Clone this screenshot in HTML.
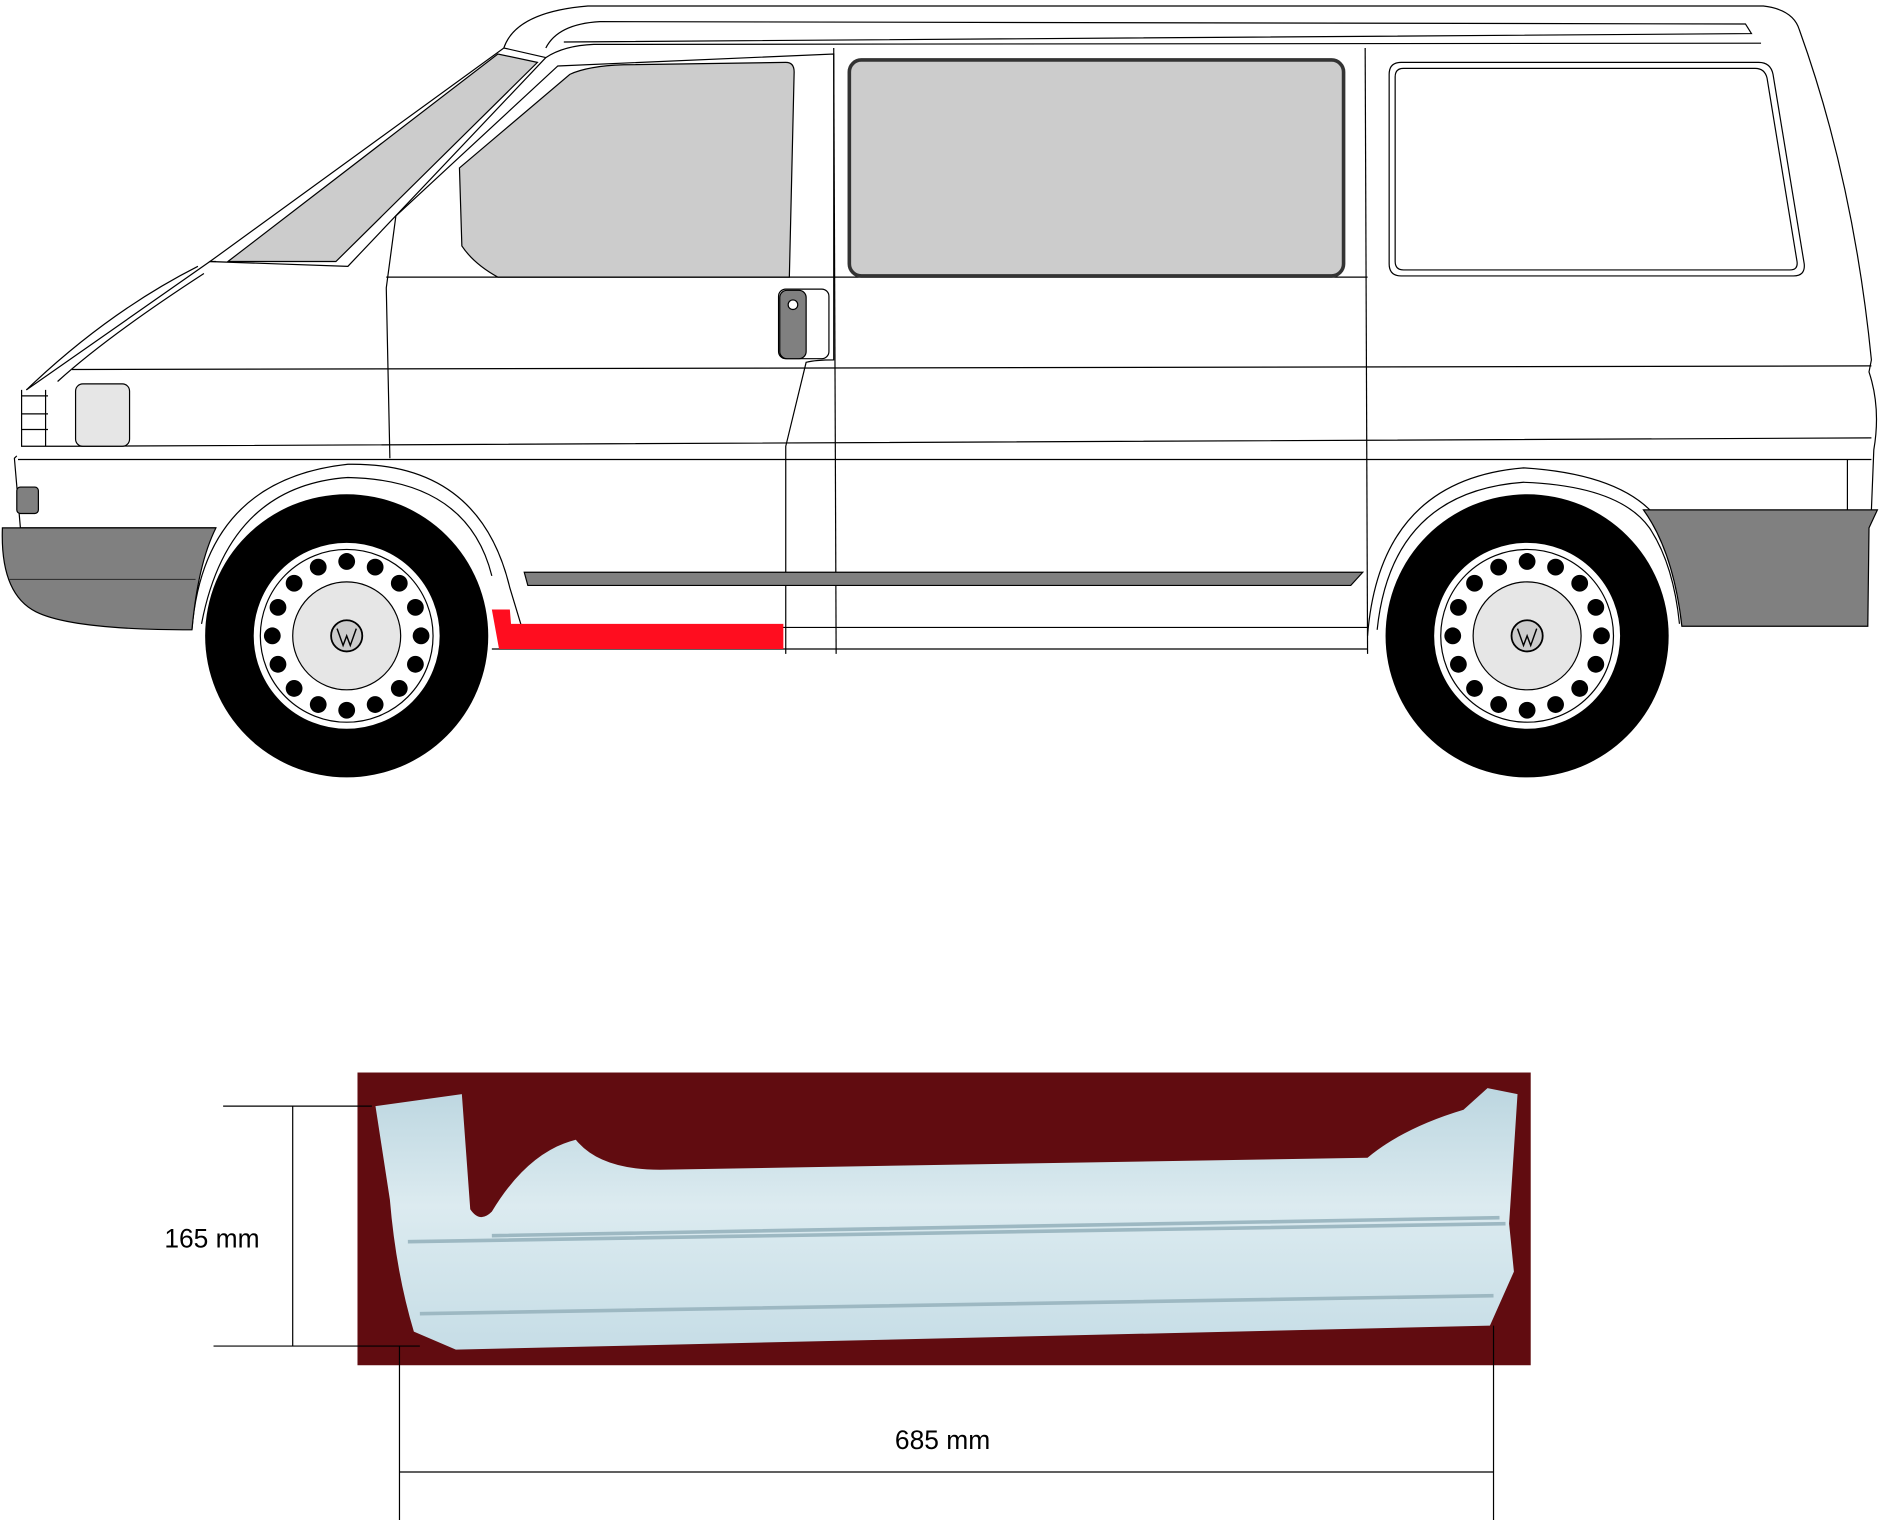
<!DOCTYPE html>
<html><head><meta charset="utf-8"><style>html,body{margin:0;padding:0;background:#fff}svg{display:block}</style></head>
<body>
<svg width="1881" height="1520" viewBox="0 0 1568 1267" preserveAspectRatio="none" xmlns="http://www.w3.org/2000/svg">
<defs>
<linearGradient id="pg" x1="0" y1="0" x2="0" y2="1">
<stop offset="0" stop-color="#bcd6e0"/><stop offset="0.45" stop-color="#dcebf0"/><stop offset="1" stop-color="#c6dde6"/>
</linearGradient>
<g id="wheel">
<circle r="118" fill="#000"/>
<circle r="78" fill="#fff" stroke="#000" stroke-width="1"/>
<circle r="72" fill="none" stroke="#000" stroke-width="1"/>
<circle r="45" fill="#e6e6e6" stroke="#000" stroke-width="1"/>
<g id="dots">
<circle cx="62" cy="0" r="7" fill="#000"/>
<circle cx="62" cy="0" r="7" fill="#000" transform="rotate(22.5)"/>
<circle cx="62" cy="0" r="7" fill="#000" transform="rotate(45)"/>
<circle cx="62" cy="0" r="7" fill="#000" transform="rotate(67.5)"/>
<circle cx="62" cy="0" r="7" fill="#000" transform="rotate(90)"/>
<circle cx="62" cy="0" r="7" fill="#000" transform="rotate(112.5)"/>
<circle cx="62" cy="0" r="7" fill="#000" transform="rotate(135)"/>
<circle cx="62" cy="0" r="7" fill="#000" transform="rotate(157.5)"/>
</g>
<use href="#dots" transform="rotate(180)"/>
<circle r="13" fill="#ccc" stroke="#000" stroke-width="1.5"/>
<path d="M-8,-6 L-3,8 L0,0 L3,8 L8,-6" fill="none" stroke="#000" stroke-width="1.2"/>
</g>
</defs>
<g fill="none" stroke="#000" stroke-width="1">
<path d="M420,40 Q430,10 490,5 L1470,5 Q1495,8 1500,25 Q1545,150 1560,300 L1558,310 Q1568,340 1562,375 L1560,425"/>
<path d="M455,40 Q465,20 500,18 L1455,20 L1460,28 L470,35"/>
<path d="M455,48 Q470,38 495,37 L1468,36"/>
<path d="M175,218 L420,40 L455,48 L290,222 Z"/>
<path d="M330,180 L465,55 L695,45 L695,300 Q680,300 672,302 L655,372 L655,545"/>
<path d="M330,180 L322,240 L325,382"/>
<path d="M322,231 L1140,231"/>
<path d="M695,40 L697,545"/>
<path d="M1138,40 L1140,545"/>
<path d="M60,308 Q150,305 1560,305"/>
<path d="M22,325 L175,218 L180,218 M14,380 L12,382 L17,440 L180,440"/>
<path d="M18,325 L18,372 L60,372 L1560,365"/>
<path d="M15,383 L1560,383"/>
<path d="M22,325 Q90,260 165,222"/>
<path d="M48,318 Q90,280 170,228"/>
<path d="M18,330 L40,330 M18,345 L40,345 M18,358 L40,358 M38,325 L38,372"/>
<path d="M435,523 L1140,523"/>
<path d="M410,541 L1140,541"/>
<path d="M1540,383 L1540,425"/>
<path d="M160,525 Q170,400 290,387 Q400,385 425,490 L435,523"/>
<path d="M168,520 Q190,405 290,398 Q390,400 410,480"/>
<path d="M1140,530 Q1150,400 1270,390 Q1350,395 1380,430"/>
<path d="M1148,525 Q1160,410 1270,402 Q1350,405 1375,440 Q1395,470 1400,520"/>
</g>
<path d="M190,218 L415,45 L448,52 L280,218 Z" fill="#ccc" stroke="#000"/>
<path d="M383,140 L475,62 Q490,55 520,54 L655,52 Q662,52 662,60 L658,231 L415,231 Q395,220 385,205 Z" fill="#ccc" stroke="#000"/>
<rect x="708" y="50" width="412" height="180" rx="10" fill="#ccc" stroke="#333" stroke-width="3"/>
<path d="M1168,52 L1466,52 Q1476,52 1478,62 L1504,220 Q1505,230 1495,230 L1168,230 Q1158,230 1158,220 L1158,62 Q1158,52 1168,52 Z" fill="#fff" stroke="#000"/>
<path d="M1170,57 L1463,57 Q1471,57 1473,65 L1498,218 Q1499,225 1492,225 L1170,225 Q1163,225 1163,218 L1163,64 Q1163,57 1170,57 Z" fill="none" stroke="#000"/>
<rect x="649" y="241" width="42" height="58" rx="6" fill="#fff" stroke="#000"/>
<rect x="650" y="242" width="22" height="57" rx="6" fill="#808080" stroke="#000"/>
<circle cx="661" cy="254" r="4" fill="#fff" stroke="#000"/>
<rect x="63" y="320" width="45" height="52" rx="6" fill="#e6e6e6" stroke="#000"/>
<rect x="14" y="406" width="18" height="22" rx="3" fill="#808080" stroke="#000"/>
<path d="M2,440 L180,440 Q165,470 160,525 Q60,525 30,510 Q0,495 2,440 Z" fill="#808080" stroke="#000"/>
<path d="M8,483 L163,483" stroke="#333"/>
<path d="M1370,425 L1565,425 L1558,440 L1557,522 L1402,522 Q1395,460 1370,425 Z" fill="#808080" stroke="#000"/>
<path d="M437,477 L1136,477 L1126,488 L440,488 Z" fill="#808080" stroke="#000"/>
<path d="M410,508 L425,508 L426,520 L653,520 L653,541 L416,541 Z" fill="#ff0d1f"/>
<use href="#wheel" transform="translate(289,530)"/>
<use href="#wheel" transform="translate(1273,530)"/>
<rect x="298" y="894" width="978" height="244" fill="#610c10"/>
<path d="M313,922 L385,912 L392,1008 Q400,1020 410,1010 Q440,960 480,950 Q500,975 550,975 L1140,965 Q1170,940 1220,925 L1240,907 L1265,912 L1258,1020 L1262,1060 L1242,1105 L380,1125 L345,1110 Q330,1060 325,1000 Z" fill="url(#pg)"/>
<path d="M340,1035 L1255,1020 M350,1095 L1245,1080 M410,1030 L1250,1015" stroke="#9db8c2" stroke-width="3" fill="none"/>
<g stroke="#000" stroke-width="1" fill="none">
<path d="M186,922 L310,922 M178,1122 L350,1122 M244,922 L244,1122"/>
<path d="M333,1122 L333,1267 M1245,1105 L1245,1267 M333,1227 L1245,1227"/>
</g>
<g font-family="Liberation Sans, sans-serif" font-size="22" fill="#000">
<text x="137" y="1040">165 mm</text>
<text x="746" y="1208">685 mm</text>
</g>
</svg>
</body></html>
